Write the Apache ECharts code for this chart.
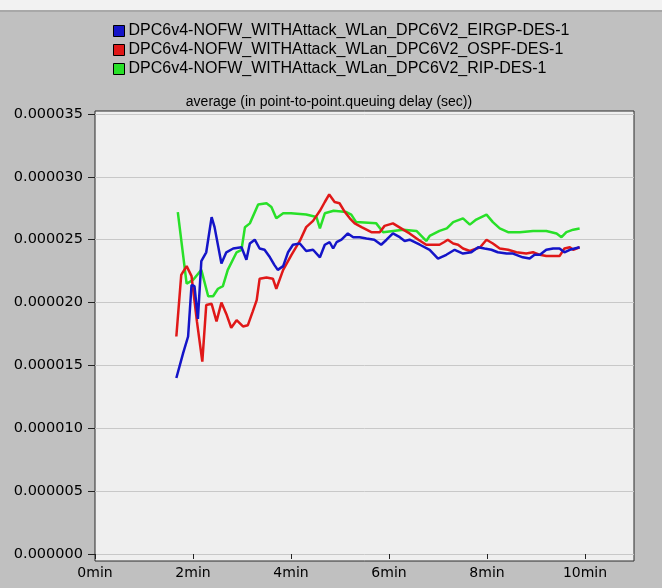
<!DOCTYPE html>
<html>
<head>
<meta charset="utf-8">
<script src="https://cdn.jsdelivr.net/npm/echarts@6/dist/echarts.min.js"></script>
<style>
  html, body { margin: 0; padding: 0; background: #c0c0c0; }
  #chart { width: 662px; height: 588px; }
</style>
</head>
<body>
<div id="chart"></div>
<script>
// Average point-to-point queuing delay, values in microseconds (converted to seconds below)
const seriesNames = [
  'DPC6v4-NOFW_WITHAttack_WLan_DPC6V2_EIRGP-DES-1',
  'DPC6v4-NOFW_WITHAttack_WLan_DPC6V2_OSPF-DES-1',
  'DPC6v4-NOFW_WITHAttack_WLan_DPC6V2_RIP-DES-1'
];
const seriesColors = ['#1414c8', '#e01818', '#28e028'];

// EIRGP (minutes, µs)
const eirgpTime = [1.66, 1.80, 1.90, 1.97, 2.03, 2.10, 2.17, 2.27, 2.38, 2.44, 2.58, 2.68, 2.82, 2.99, 3.09, 3.16, 3.26, 3.36, 3.46, 3.57, 3.66, 3.73, 3.84, 3.94, 4.04, 4.18, 4.31, 4.45, 4.59, 4.69, 4.79, 4.86, 4.93, 5.03, 5.16, 5.27, 5.40, 5.54, 5.70, 5.84, 5.95, 6.08, 6.22, 6.32, 6.42, 6.63, 6.83, 7.00, 7.17, 7.34, 7.51, 7.68, 7.82, 7.95, 8.09, 8.22, 8.40, 8.53, 8.73, 8.87, 8.97, 9.08, 9.21, 9.35, 9.48, 9.58, 9.69, 9.89];
const eirgpDelay = [14.0, 16.0, 17.3, 21.4, 21.3, 18.7, 23.3, 24.0, 26.8, 26.0, 23.1, 24.0, 24.3, 24.4, 23.4, 24.7, 25.0, 24.3, 24.2, 23.6, 23.0, 22.6, 22.9, 24.0, 24.6, 24.7, 24.1, 24.2, 23.6, 24.6, 24.8, 24.3, 24.8, 25.0, 25.5, 25.2, 25.2, 25.1, 25.0, 24.6, 25.0, 25.5, 25.2, 24.9, 25.0, 24.6, 24.2, 23.5, 23.8, 24.2, 23.9, 24.0, 24.4, 24.3, 24.2, 24.0, 23.9, 23.9, 23.6, 23.5, 23.8, 23.8, 24.2, 24.3, 24.3, 24.0, 24.2, 24.4];

// OSPF (minutes, µs)
const ospfTime = [1.66, 1.76, 1.87, 1.97, 2.08, 2.19, 2.27, 2.38, 2.48, 2.58, 2.68, 2.78, 2.89, 3.02, 3.12, 3.22, 3.30, 3.36, 3.50, 3.63, 3.70, 3.84, 4.01, 4.18, 4.31, 4.45, 4.59, 4.69, 4.78, 4.89, 4.99, 5.10, 5.20, 5.30, 5.44, 5.64, 5.81, 5.91, 6.08, 6.29, 6.42, 6.60, 6.76, 7.03, 7.12, 7.20, 7.31, 7.41, 7.51, 7.65, 7.86, 7.99, 8.12, 8.26, 8.43, 8.60, 8.80, 8.94, 9.08, 9.21, 9.48, 9.58, 9.69, 9.76, 9.89];
const ospfDelay = [17.3, 22.2, 22.9, 22.1, 18.5, 15.3, 19.8, 19.9, 18.5, 20.0, 19.1, 18.0, 18.6, 18.1, 18.2, 19.3, 20.2, 21.9, 22.0, 21.9, 21.1, 22.6, 23.8, 24.9, 26.0, 26.5, 27.3, 28.0, 28.6, 28.0, 27.9, 27.2, 26.7, 26.3, 26.0, 25.6, 25.6, 26.1, 26.3, 25.8, 25.5, 25.0, 24.6, 24.6, 24.8, 25.0, 24.7, 24.6, 24.3, 24.1, 24.4, 25.0, 24.7, 24.3, 24.2, 24.0, 23.9, 24.0, 23.8, 23.7, 23.7, 24.3, 24.4, 24.2, 24.4];

// RIP (minutes, µs)
const ripTime = [1.69, 1.87, 2.00, 2.17, 2.31, 2.41, 2.51, 2.61, 2.71, 2.89, 2.99, 3.06, 3.16, 3.33, 3.50, 3.60, 3.70, 3.84, 4.00, 4.31, 4.52, 4.59, 4.69, 4.87, 5.13, 5.23, 5.33, 5.74, 5.88, 6.29, 6.56, 6.76, 6.83, 7.03, 7.18, 7.31, 7.51, 7.65, 7.78, 7.99, 8.12, 8.26, 8.43, 8.67, 8.94, 9.21, 9.42, 9.52, 9.62, 9.76, 9.89];
const ripDelay = [27.2, 21.5, 21.8, 22.6, 20.5, 20.5, 21.1, 21.3, 22.6, 24.0, 24.2, 26.0, 26.3, 27.8, 27.9, 27.6, 26.7, 27.1, 27.1, 27.0, 26.8, 25.9, 27.1, 27.3, 27.2, 27.0, 26.4, 26.3, 25.6, 25.8, 25.7, 24.9, 25.3, 25.7, 25.9, 26.4, 26.7, 26.2, 26.6, 27.0, 26.4, 25.9, 25.6, 25.6, 25.7, 25.7, 25.5, 25.2, 25.6, 25.8, 25.9];

// Axis ticks
const xTickMinutes = [0, 2, 4, 6, 8, 10];
const yTickValues = [0, 0.000005, 0.00001, 0.000015, 0.00002, 0.000025, 0.00003, 0.000035];

const MICRO = 1e-6;
const toPairs = (t, v) => t.map((x, i) => [x, v[i] * MICRO]);
const seriesData = [
  toPairs(eirgpTime, eirgpDelay),
  toPairs(ospfTime, ospfDelay),
  toPairs(ripTime, ripDelay)
];

const FONT = '"Liberation Sans", Arial, sans-serif';
const LABEL_FONT = '"DejaVu Sans", "Liberation Sans", sans-serif';
const chart = echarts.init(document.getElementById('chart'), null, { renderer: 'canvas' });

chart.setOption({
  backgroundColor: '#c0c0c0',
  animation: false,
  textStyle: { fontFamily: FONT },
  graphic: [
    { type: 'rect', shape: { x: 0, y: 0, width: 662, height: 10 }, style: { fill: '#f2f2f2' }, silent: true },
    { type: 'rect', shape: { x: 0, y: 10, width: 662, height: 2 }, style: { fill: '#a8a8a8' }, silent: true }
  ],
  title: {
    text: 'average (in point-to-point.queuing delay (sec))',
    left: 324,
    textAlign: 'center',
    top: 90,
    textStyle: { fontFamily: FONT, fontSize: 14, fontWeight: 'normal', color: '#000' }
  },
  legend: {
    data: seriesNames,
    orient: 'vertical',
    left: 108,
    top: 18,
    itemWidth: 11,
    itemHeight: 11,
    itemGap: 3,
    icon: 'rect',
    itemStyle: { borderColor: '#000', borderWidth: 1 },
    textStyle: { fontFamily: FONT, fontSize: 16, lineHeight: 16, color: '#000', padding: [0, 0, 0, -1] }
  },
  grid: [
    // outer plot frame
    { left: 95, right: 28, top: 111, bottom: 27, show: true, backgroundColor: '#efefef', borderColor: '#2a2a2a', borderWidth: 1 },
    // data area
    { left: 95, right: 28, top: 114, bottom: 34 }
  ],
  xAxis: [
    { gridIndex: 0, type: 'value', show: false, min: 0, max: 1 },
    {
      gridIndex: 1, type: 'value', min: 0, max: 11, interval: 2, offset: 7,
      axisLine: { show: false },
      axisTick: { show: true, length: 5, lineStyle: { color: '#222' }, customValues: xTickMinutes },
      axisLabel: {
        color: '#000', fontFamily: LABEL_FONT, fontSize: 14, margin: 5,
        customValues: xTickMinutes,
        formatter: v => v + 'min'
      },
      splitLine: { show: false }
    }
  ],
  yAxis: [
    { gridIndex: 0, type: 'value', show: false, min: 0, max: 1 },
    {
      gridIndex: 1, type: 'value', min: 0, max: 0.000035, interval: 0.000005,
      axisLine: { show: false },
      axisTick: { show: true, length: 7, lineStyle: { color: '#222' } },
      axisLabel: {
        color: '#000', fontFamily: LABEL_FONT, fontSize: 14.5, margin: 12,
        customValues: yTickValues,
        formatter: v => v.toFixed(6)
      },
      splitLine: { show: true, lineStyle: { color: '#c8c8c8', width: 1 } }
    }
  ],
  series: seriesNames.map((name, i) => ({
    name,
    type: 'line',
    xAxisIndex: 1,
    yAxisIndex: 1,
    data: seriesData[i],
    showSymbol: false,
    symbol: 'none',
    itemStyle: { color: seriesColors[i] },
    lineStyle: { color: seriesColors[i], width: 2.5 },
    z: 3 - i
  }))
});
</script>
</body>
</html>
